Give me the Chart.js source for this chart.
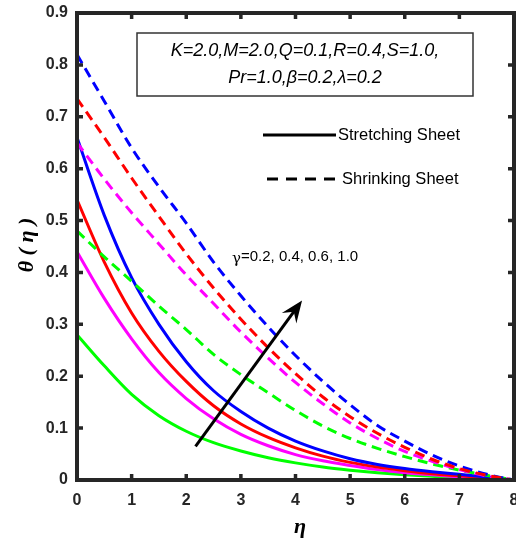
<!DOCTYPE html>
<html>
<head>
<meta charset="utf-8">
<script src="https://cdn.jsdelivr.net/npm/chart.js@4.4.1/dist/chart.umd.min.js"></script>
<style>
    html, body { margin: 0; padding: 0; background: #fff; }
    canvas { display: block; }
</style>
</head>
<body>
<canvas id="thetaChart" width="516" height="542"></canvas>
<script>
// === DATA ===
const ETA = [0, 0.5, 1, 1.5, 2, 2.5, 3, 3.5, 4, 4.5, 5, 5.5, 6, 6.5, 7, 7.5, 8];

// stretching sheet (solid)
const stretchGamma02 = [0.28, 0.22, 0.165, 0.124, 0.094, 0.072, 0.056, 0.043, 0.033, 0.025, 0.019, 0.014, 0.010, 0.007, 0.004, 0.002, 0];
const stretchGamma04 = [0.44, 0.35, 0.272, 0.207, 0.157, 0.118, 0.088, 0.066, 0.049, 0.037, 0.028, 0.020, 0.014, 0.010, 0.006, 0.003, 0];
const stretchGamma06 = [0.54, 0.42, 0.322, 0.248, 0.190, 0.143, 0.108, 0.082, 0.062, 0.046, 0.034, 0.025, 0.018, 0.012, 0.008, 0.004, 0];
const stretchGamma10 = [0.66, 0.51, 0.39, 0.30, 0.228, 0.172, 0.132, 0.100, 0.075, 0.056, 0.041, 0.030, 0.022, 0.016, 0.011, 0.006, 0];

// shrinking sheet (dashed)
const shrinkGamma02 = [0.48, 0.43, 0.383, 0.335, 0.290, 0.242, 0.203, 0.168, 0.134, 0.104, 0.080, 0.061, 0.045, 0.031, 0.019, 0.009, 0];
const shrinkGamma04 = [0.65, 0.58, 0.515, 0.455, 0.395, 0.340, 0.285, 0.235, 0.188, 0.147, 0.110, 0.080, 0.055, 0.036, 0.020, 0.008, 0];
const shrinkGamma06 = [0.735, 0.66, 0.582, 0.508, 0.436, 0.370, 0.310, 0.255, 0.205, 0.160, 0.122, 0.090, 0.063, 0.040, 0.022, 0.009, 0];
const shrinkGamma10 = [0.82, 0.73, 0.64, 0.565, 0.495, 0.420, 0.355, 0.295, 0.240, 0.190, 0.145, 0.105, 0.075, 0.048, 0.027, 0.011, 0];

const X_TICKS = [0, 1, 2, 3, 4, 5, 6, 7, 8];
const Y_TICKS = [0, 0.1, 0.2, 0.3, 0.4, 0.5, 0.6, 0.7, 0.8, 0.9];
const Y_TICK_LABELS = ["0", "0.1", "0.2", "0.3", "0.4", "0.5", "0.6", "0.7", "0.8", "0.9"];

const PARAM_LINES = ["K=2.0,M=2.0,Q=0.1,R=0.4,S=1.0,", "Pr=1.0,\u03B2=0.2,\u03BB=0.2"];
const GAMMA_NOTE = "=0.2, 0.4, 0.6, 1.0";
// arrow from (eta, theta) to (eta, theta)
const ARROW = [[2.17, 0.065], [4.12, 0.346]];

// === STYLE ===
const COLORS = {
    axis: "#262626",
    green: "#00ff00",
    magenta: "#ff00ff",
    red: "#ff0000",
    blue: "#0000ff",
};
const DASH = [10, 6];

function toPoints(values) {
    return ETA.map((x, i) => ({ x: x, y: values[i] }));
}

function curve(values, color, dashed, order) {
    return {
        data: toPoints(values),
        borderColor: color,
        borderWidth: 3,
        borderDash: dashed ? DASH : [],
        pointRadius: 0,
        cubicInterpolationMode: "monotone",
        fill: false,
        order: order,
    };
}

// frame, inside ticks, labels and annotations
const annotations = {
    id: "annotations",
    afterDraw(chart) {
        const { ctx, chartArea: a, scales } = chart;
        const xs = scales.x, ys = scales.y;
        ctx.save();

        // inside ticks on all four sides
        ctx.strokeStyle = COLORS.axis;
        ctx.lineWidth = 3.5;
        const tl = 6;
        ctx.beginPath();
        X_TICKS.forEach((t) => {
            const px = xs.getPixelForValue(t);
            ctx.moveTo(px, a.bottom); ctx.lineTo(px, a.bottom - tl);
            ctx.moveTo(px, a.top); ctx.lineTo(px, a.top + tl);
        });
        Y_TICKS.forEach((t) => {
            const py = ys.getPixelForValue(t);
            ctx.moveTo(a.left, py); ctx.lineTo(a.left + tl, py);
            ctx.moveTo(a.right, py); ctx.lineTo(a.right - tl, py);
        });
        ctx.stroke();

        // axes box
        ctx.lineWidth = 4;
        ctx.strokeRect(a.left, a.top, a.right - a.left, a.bottom - a.top);

        // parameter box
        ctx.lineWidth = 1.5;
        ctx.strokeStyle = "#333";
        ctx.fillStyle = "#fff";
        ctx.fillRect(137, 33, 336, 63);
        ctx.strokeRect(137, 33, 336, 63);
        ctx.fillStyle = "#000";
        ctx.textAlign = "center";
        ctx.textBaseline = "middle";
        ctx.font = "italic 18px 'Liberation Sans', Arial, sans-serif";
        ctx.fillText(PARAM_LINES[0], 305, 51);
        ctx.fillText(PARAM_LINES[1], 305, 78);

        // legend
        ctx.strokeStyle = "#000";
        ctx.lineWidth = 3;
        ctx.beginPath();
        ctx.moveTo(263, 135); ctx.lineTo(336, 135);
        ctx.stroke();
        ctx.setLineDash([11, 8]);
        ctx.beginPath();
        ctx.moveTo(267, 179); ctx.lineTo(340, 179);
        ctx.stroke();
        ctx.setLineDash([]);
        ctx.textAlign = "left";
        ctx.font = "16.5px 'Liberation Sans', Arial, sans-serif";
        ctx.fillText("Stretching Sheet", 338, 135);
        ctx.fillText("Shrinking Sheet", 342, 179);

        // gamma note
        ctx.font = "15px 'DejaVu Serif', 'Liberation Serif', serif";
        ctx.fillText("\u03B3", 232, 259);
        const gw = ctx.measureText("\u03B3").width;
        ctx.font = "15px 'Liberation Sans', Arial, sans-serif";
        ctx.fillText(GAMMA_NOTE, 232 + gw, 257);

        // arrow
        const x0 = xs.getPixelForValue(ARROW[0][0]), y0 = ys.getPixelForValue(ARROW[0][1]);
        const x1 = xs.getPixelForValue(ARROW[1][0]), y1 = ys.getPixelForValue(ARROW[1][1]);
        const ang = Math.atan2(y1 - y0, x1 - x0);
        const hl = 22, hw = 9;
        const bx = x1 - hl * Math.cos(ang), by = y1 - hl * Math.sin(ang);
        ctx.strokeStyle = "#000";
        ctx.lineWidth = 3;
        ctx.beginPath();
        ctx.moveTo(x0, y0);
        ctx.lineTo(x1 - 8 * Math.cos(ang), y1 - 8 * Math.sin(ang));
        ctx.stroke();
        ctx.fillStyle = "#000";
        ctx.beginPath();
        ctx.moveTo(x1, y1);
        ctx.lineTo(bx - hw * Math.sin(ang), by + hw * Math.cos(ang));
        ctx.lineTo(x1 - 14 * Math.cos(ang), y1 - 14 * Math.sin(ang));
        ctx.lineTo(bx + hw * Math.sin(ang), by - hw * Math.cos(ang));
        ctx.closePath();
        ctx.fill();

        // axis titles
        ctx.fillStyle = "#000";
        ctx.font = "bold italic 22px 'Liberation Serif', 'Times New Roman', serif";
        ctx.textAlign = "center";
        ctx.textBaseline = "middle";
        ctx.fillText("\u03B7", 300, 527);
        ctx.translate(27, 245);
        ctx.rotate(-Math.PI / 2);
        ctx.fillText("\u03B8 ( \u03B7 )", 0, 0);

        ctx.restore();
    },
};

// === CHART ===
const tickFont = { family: "'Liberation Sans', Arial, sans-serif", size: 16, weight: "bold" };

new Chart(document.getElementById("thetaChart").getContext("2d"), {
    type: "line",
    data: {
        datasets: [
            curve(stretchGamma02, COLORS.green, false, 8),
            curve(stretchGamma04, COLORS.magenta, false, 7),
            curve(stretchGamma06, COLORS.red, false, 6),
            curve(stretchGamma10, COLORS.blue, false, 5),
            curve(shrinkGamma02, COLORS.green, true, 4),
            curve(shrinkGamma04, COLORS.magenta, true, 3),
            curve(shrinkGamma10, COLORS.blue, true, 2),
            curve(shrinkGamma06, COLORS.red, true, 1),
        ],
    },
    options: {
        responsive: false,
        devicePixelRatio: 1,
        animation: false,
        layout: { padding: { top: 13, right: 2, left: 0, bottom: 0 } },
        plugins: {
            legend: { display: false },
            tooltip: { enabled: false },
        },
        scales: {
            x: {
                type: "linear",
                min: 0,
                max: 8,
                afterBuildTicks: (s) => { s.ticks = X_TICKS.map((v) => ({ value: v })); },
                afterFit: (s) => { s.height = 62; s.paddingLeft = 0; s.paddingRight = 0; },
                grid: { display: false, drawTicks: false },
                border: { display: false },
                ticks: { color: COLORS.axis, font: tickFont, padding: 11, callback: (v) => String(v) },
            },
            y: {
                type: "linear",
                min: 0,
                max: 0.9,
                afterBuildTicks: (s) => { s.ticks = Y_TICKS.map((v) => ({ value: v })); },
                afterFit: (s) => { s.width = 77; s.paddingTop = 0; s.paddingBottom = 0; },
                grid: { display: false, drawTicks: false },
                border: { display: false },
                ticks: {
                    color: COLORS.axis,
                    font: tickFont,
                    padding: 9,
                    callback: (v, i) => Y_TICK_LABELS[i],
                },
            },
        },
    },
    plugins: [annotations],
});
</script>
</body>
</html>
